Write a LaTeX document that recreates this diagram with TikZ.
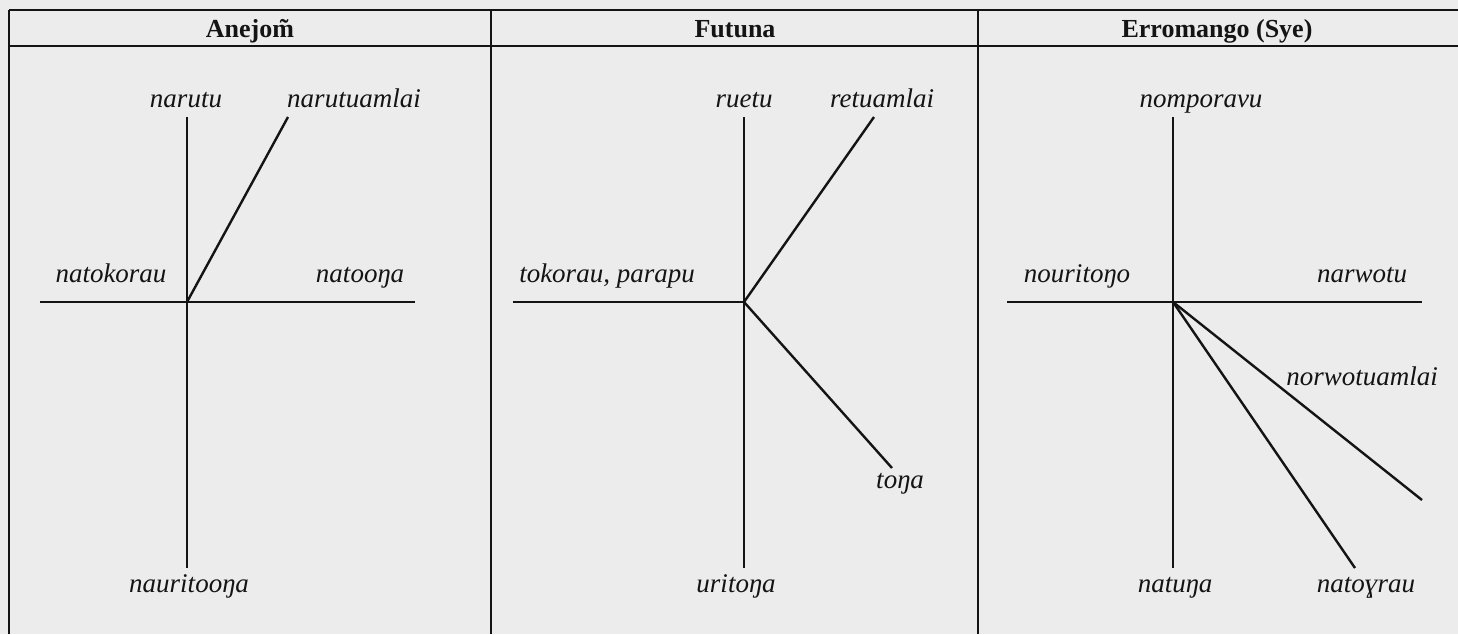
\documentclass[tikz,border=0pt]{standalone}
\usepackage{fontspec}
\setmainfont{Liberation Serif}
\definecolor{paper}{RGB}{236,236,236}
\definecolor{ink}{RGB}{20,20,20}
\tikzset{
  lbl/.style={inner sep=0.75pt,anchor=base,font=\fontsize{13.5}{16}\selectfont\itshape,text=ink},
  hdr/.style={inner sep=0.75pt,anchor=base,font=\fontsize{13}{16}\selectfont\bfseries,text=ink},
  axis/.style={draw=ink,line width=1.2pt},
  rule/.style={draw=ink,line width=1pt}
}
\begin{document}
\begin{tikzpicture}[x=0.5pt,y=0.5pt,yscale=-1,xscale=1]
\fill[paper] (0,0) rectangle (1458,634);
\useasboundingbox (0,0) rectangle (1458,634);

%Table lines
\draw[rule] (9,10) -- (1458,10);
\draw[rule] (9,46) -- (1458,46);
\draw[rule] (9,10) -- (9,634);
\draw[rule] (491,10) -- (491,634);
\draw[rule] (978,10) -- (978,634);

% Headers
\node[hdr] (hA) at (250,37) {Anejom̃};
\node[hdr] (hF) at (735,37) {Futuna};
\node[hdr] (hE) at (1217,37) {Erromango (Sye)};

%Anejom
\coordinate (oA) at (187,302);
\coordinate (wA) at (40,302);
\coordinate (eA) at (415,302);
\coordinate (nA) at (187,117);
\coordinate (sA) at (187,568);
\coordinate (neA) at (288,117);
\node[lbl] (narutu) at (186,107) {narutu};
\node[lbl] (narutuamlai) at (354,107) {narutuamlai};
\node[lbl] (natokorau) at (111,282) {natokorau};
\node[lbl] (natoona) at (360,282) {natooŋa};
\node[lbl] (nauritoona) at (189,592) {nauritooŋa};
\draw[axis] (wA) -- (eA);
\draw[axis] (nA) -- (sA);
\draw[axis] (oA) -- (neA);

%Futuna
\coordinate (oF) at (744,302);
\coordinate (wF) at (513,302);
\coordinate (nF) at (744,117);
\coordinate (sF) at (744,568);
\coordinate (neF) at (874,117);
\coordinate (seF) at (892,468);
\node[lbl] (ruetu) at (744,107) {ruetu};
\node[lbl] (retuamlai) at (882,107) {retuamlai};
\node[lbl] (tokorau) at (607,282) {tokorau, parapu};
\node[lbl] (tona) at (900,488) {toŋa};
\node[lbl] (uritona) at (736,592) {uritoŋa};
\draw[axis] (wF) -- (oF);
\draw[axis] (nF) -- (sF);
\draw[axis] (oF) -- (neF);
\draw[axis] (oF) -- (seF);

%Erromango
\coordinate (oE) at (1173,302);
\coordinate (wE) at (1007,302);
\coordinate (eE) at (1422,302);
\coordinate (nE) at (1173,117);
\coordinate (sE) at (1173,568);
\coordinate (seE) at (1355,568);
\coordinate (eseE) at (1422,500);
\node[lbl] (nomporavu) at (1201,107) {nomporavu};
\node[lbl] (nouritono) at (1077,282) {nouritoŋo};
\node[lbl] (narwotu) at (1362,282) {narwotu};
\node[lbl] (norwotuamlai) at (1362,385) {norwotuamlai};
\node[lbl] (natuna) at (1175,592) {natuŋa};
\node[lbl] (natograu) at (1366,592) {natoɣrau};
\draw[axis] (wE) -- (eE);
\draw[axis] (nE) -- (sE);
\draw[axis] (oE) -- (seE);
\draw[axis] (oE) -- (eseE);

\end{tikzpicture}
\end{document}
